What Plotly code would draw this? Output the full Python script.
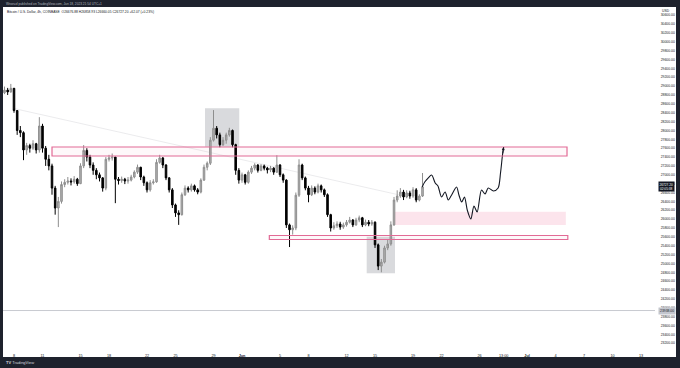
import plotly.graph_objects as go
import pandas as pd

# ---------------- data ----------------
candle_start = "2023-05-07 00:00"
candle_freq = "8h"
first_open = 28850
closes = [28910, 28870, 28950, 28450, 28000, 27950, 27560, 27660, 27600, 27700,
          27560, 28100, 27600, 27350, 27200, 26700, 26250, 26400, 26780, 26830,
          26860, 26840, 26900, 26800, 27200, 27550, 27400, 27220, 27100, 27000,
          26930, 26700, 27350, 27380, 27400, 26900, 26870, 26900, 26860, 26880,
          26950, 27060, 27170, 26950, 26820, 26660, 26820, 26840, 27280, 27380,
          27220, 26930, 26660, 26320, 26140, 26100, 26550, 26700, 26660, 26750,
          26660, 26610, 26880, 27170, 27260, 27780, 28050, 27900, 27680, 27780,
          27900, 28000, 27680, 27100, 26880, 27000, 26830, 27060, 27150, 27220,
          27100, 27200, 27150, 27110, 27150, 27060, 27220, 27000, 26880, 25870,
          25760, 25800, 26540, 27220, 26930, 26700, 26550, 26700, 26610, 26750,
          26660, 26550, 26100, 25800, 25850, 25890, 25820, 25870, 25930, 25980,
          25870, 25980, 26030, 25870, 25930, 25890, 25930, 25420, 24940, 25030,
          25350, 25440, 25870, 26430, 26520, 26610, 26500, 26590, 26520, 26660,
          26430, 26520, 26727]
highs = [28990, 28960, 29050, 28960, 28450, 28100, 27980, 27720, 27700, 27780,
         27720, 28300, 28150, 27650, 27450, 27250, 26750, 26500, 26850, 26900,
         26950, 26920, 26970, 26930, 27260, 27670, 27600, 27450, 27280, 27150,
         27050, 26950, 27400, 27450, 27480, 27400, 26950, 26960, 26930, 26950,
         27000, 27100, 27230, 27180, 26980, 26850, 26880, 26900, 27350, 27450,
         27400, 27240, 26950, 26700, 26350, 26200, 26600, 26760, 26740, 26800,
         26780, 26700, 26920, 27230, 27300, 27850, 28460, 28100, 27950, 27850,
         27950, 28060, 28020, 27700, 27150, 27050, 27020, 27100, 27200, 27260,
         27240, 27240, 27230, 27180, 27200, 27170, 27440, 27240, 27030, 26900,
         25900, 25860, 26600, 27350, 27250, 26960, 26750, 26760, 26740, 26800,
         26780, 26690, 26580, 26120, 25930, 25950, 25940, 25920, 25980, 26050,
         26000, 26030, 26080, 26050, 25990, 25980, 25980, 25950, 25450, 25100,
         25400, 25530, 25950, 26500, 26650, 26700, 26660, 26650, 26640, 26720,
         26700, 26560, 27040]
lows = [28820, 28800, 28850, 28400, 27900, 27850, 27330, 27450, 27500, 27560,
        27480, 27500, 27500, 27200, 27100, 26550, 26100, 25820, 26350, 26720,
        26780, 26760, 26800, 26750, 26790, 27150, 27300, 27150, 27000, 26900,
        26850, 26620, 26650, 27300, 27320, 26360, 26780, 26820, 26790, 26800,
        26850, 26920, 27020, 26880, 26750, 26600, 26620, 26780, 26820, 27250,
        27150, 26880, 26600, 26250, 26050, 25870, 26080, 26520, 26600, 26620,
        26620, 26560, 26580, 26860, 27100, 27220, 27750, 27820, 27620, 27650,
        27700, 27860, 27620, 27000, 26800, 26820, 26780, 26800, 27020, 27100,
        27050, 27080, 27100, 27030, 27060, 27000, 27040, 26950, 26820, 25800,
        25370, 25650, 25750, 26500, 26880, 26650, 26380, 26520, 26560, 26580,
        26600, 26500, 26050, 25720, 25760, 25800, 25760, 25780, 25830, 25900,
        25820, 25850, 25930, 25820, 25840, 25840, 25850, 25350, 24850, 24800,
        25000, 25300, 25400, 25850, 26380, 26480, 26430, 26470, 26460, 26480,
        26380, 26400, 26500]

# projected path (drawing)
proj_times = ["2023-06-19 23:00", "2023-06-20 06:00", "2023-06-20 14:00", "2023-06-20 23:00",
              "2023-06-21 08:00", "2023-06-21 15:00", "2023-06-22 00:00", "2023-06-22 09:00",
              "2023-06-22 17:00", "2023-06-23 00:00", "2023-06-23 14:00", "2023-06-23 20:00",
              "2023-06-24 03:00", "2023-06-24 10:00", "2023-06-24 17:00", "2023-06-25 02:00",
              "2023-06-25 10:00", "2023-06-25 18:00", "2023-06-26 05:00", "2023-06-26 14:00",
              "2023-06-26 22:00", "2023-06-27 11:00", "2023-06-27 23:00", "2023-06-28 05:00",
              "2023-06-28 10:00"]
proj_prices = [26727, 26844, 26927, 26995, 26815, 26747, 26499, 26612, 26431, 26521,
               26724, 26544, 26386, 26499, 26206, 26003, 26296, 26160, 26657, 26567,
               26702, 26634, 26702, 27040, 27446]
proj_end_time = "2023-06-28 13:00"
proj_end_price = 27627

# zones: (start, end, low, high)
pink_boxes = [("2023-05-12 00:00", "2023-07-05 05:00", 27424, 27627),
              ("2023-06-03 21:00", "2023-07-05 07:00", 25540, 25630)]
pink_zone = ("2023-06-16 22:00", "2023-07-05 02:00", 25867, 26167)
gray_boxes = [("2023-05-28 02:30", "2023-05-31 17:00", 27634, 28500),
              ("2023-06-14 03:00", "2023-06-17 02:30", 24777, 25603)]
trend_line = (("2023-05-07 21:30", 28500), ("2023-06-17 14:00", 26544))
hline_price = 23938
last_price = 26727.20

tick_dates = ["2023-05-08", "2023-05-11", "2023-05-15", "2023-05-18", "2023-05-22",
              "2023-05-25", "2023-05-29", "2023-06-01", "2023-06-05", "2023-06-08",
              "2023-06-12", "2023-06-15", "2023-06-19", "2023-06-22", "2023-06-26",
              "2023-06-28 13:00", "2023-07-01", "2023-07-04", "2023-07-07", "2023-07-10",
              "2023-07-13"]
tick_labels = ["8", "11", "15", "18", "22", "25", "29", "<b>Jun</b>", "5", "8",
               "12", "15", "19", "22", "26", "13:00", "<b>Jul</b>", "4", "7", "10", "13"]
price_ticks = list(range(23200, 30601, 200))

# ---------------- layout geometry ----------------
W, H = 680, 368
L, R, T, B = 3, 25, 7, 19
PW, PH = W - L - R, H - T - B
x_range = ["2023-05-06 20:12", "2023-07-14 11:17"]
y_range = [23070, 30785]


def px_x(px):
    return (px - L) / PW


def px_y(py):
    return (T + PH - py) / PH


FONT = "Liberation Sans"
DARK = "#1e222d"

times = pd.date_range(candle_start, periods=len(closes), freq=candle_freq)
opens = [first_open] + closes[:-1]

fig = go.Figure()
fig.add_trace(go.Candlestick(
    x=times, open=opens, high=highs, low=lows, close=closes,
    increasing=dict(line=dict(color="#8e8e8e", width=1), fillcolor="#b4b4b4"),
    decreasing=dict(line=dict(color="#000000", width=1), fillcolor="#000000"),
    whiskerwidth=0, showlegend=False, hoverinfo="skip"))

fig.add_trace(go.Scatter(
    x=proj_times + [proj_end_time],
    y=proj_prices + [proj_end_price],
    mode="lines", line=dict(color="#131722", width=1.1, shape="spline", smoothing=0.8),
    showlegend=False, hoverinfo="skip"))

shapes = []
shapes.append(dict(type="line", xref="x", yref="y",
                   x0=trend_line[0][0], y0=trend_line[0][1],
                   x1=trend_line[1][0], y1=trend_line[1][1],
                   line=dict(color="rgba(120,123,134,0.15)", width=1), layer="below"))
for (s, e, lo, hi) in gray_boxes:
    shapes.append(dict(type="rect", xref="x", yref="y", x0=s, x1=e, y0=lo, y1=hi,
                       fillcolor="rgba(120,123,134,0.28)", line=dict(width=0), layer="below"))
shapes.append(dict(type="rect", xref="x", yref="y", x0=pink_zone[0], x1=pink_zone[1],
                   y0=pink_zone[2], y1=pink_zone[3],
                   fillcolor="rgba(233,30,99,0.12)", line=dict(width=0), layer="below"))
for (s, e, lo, hi) in pink_boxes:
    shapes.append(dict(type="rect", xref="x", yref="y", x0=s, x1=e, y0=lo, y1=hi,
                       fillcolor="rgba(233,30,99,0.03)",
                       line=dict(color="#e26b96", width=1.2), layer="above"))
shapes.append(dict(type="line", xref="paper", yref="y", x0=0, x1=1,
                   y0=hline_price, y1=hline_price,
                   line=dict(color="#c9cbd1", width=1), layer="below"))
shapes += [
    dict(type="rect", xref="paper", yref="paper", x0=px_x(0), x1=px_x(W), y0=px_y(0), y1=px_y(7),
         fillcolor=DARK, line=dict(width=0), layer="above"),
    dict(type="rect", xref="paper", yref="paper", x0=px_x(0), x1=px_x(W), y0=px_y(357), y1=px_y(H),
         fillcolor=DARK, line=dict(width=0), layer="above"),
    dict(type="rect", xref="paper", yref="paper", x0=px_x(0), x1=px_x(3), y0=px_y(0), y1=px_y(H),
         fillcolor=DARK, line=dict(width=0), layer="above"),
    dict(type="rect", xref="paper", yref="paper", x0=px_x(676), x1=px_x(W), y0=px_y(0), y1=px_y(H),
         fillcolor=DARK, line=dict(width=0), layer="above"),
]

annotations = [
    dict(xref="paper", yref="paper", x=px_x(4), y=px_y(3.6), xanchor="left", yanchor="middle",
         text="Wnoruzl published on TradingView.com, Jun 18, 2023 21:54 UTC+1",
         showarrow=False, font=dict(family=FONT, size=3.2, color="#b2b5be")),
    dict(xref="paper", yref="paper", x=px_x(5), y=px_y(12), xanchor="left", yanchor="middle",
         text="Bitcoin / U.S. Dollar, 4h, COINBASE  O26676.88 H26858.93 L26660.05 C26727.20 +62.07 (+0.23%)",
         showarrow=False, font=dict(family=FONT, size=3.3, color="#131722")),
    dict(xref="paper", yref="paper", x=px_x(660), y=px_y(10.7), xanchor="left", yanchor="middle",
         text="USD", showarrow=False, font=dict(family=FONT, size=3.4, color="#131722")),
    dict(xref="paper", yref="paper", x=px_x(4), y=px_y(362.5), xanchor="left", yanchor="middle",
         text="<b>TV</b> TradingView", showarrow=False,
         font=dict(family=FONT, size=4, color="#d1d4dc")),
    dict(xref="paper", yref="y", x=px_x(658), y=hline_price, xanchor="left", yanchor="middle",
         text="%.2f" % hline_price, showarrow=False, bgcolor="#c3c6ce", borderpad=1,
         font=dict(family=FONT, size=3.4, color="#131722")),
    dict(xref="paper", yref="y", x=px_x(658), y=last_price, xanchor="left", yanchor="middle",
         text="%.2f<br>02:05:38" % last_price, showarrow=False, bgcolor="#131722", borderpad=0.5,
         font=dict(family=FONT, size=3.2, color="#ffffff")),
    dict(xref="x", yref="y", x=proj_end_time, y=proj_end_price,
         ax=proj_times[-1], ay=proj_prices[-1], axref="x", ayref="y",
         text="", showarrow=True, arrowhead=2, arrowsize=0.6, arrowwidth=1, arrowcolor="#131722"),
]

fig.update_layout(
    width=W, height=H, margin=dict(l=L, r=R, t=T, b=B, pad=0),
    paper_bgcolor="#ffffff", plot_bgcolor="#ffffff",
    shapes=shapes, annotations=annotations, showlegend=False,
    font=dict(family=FONT, color="#131722"),
    xaxis=dict(type="date", range=x_range, rangeslider=dict(visible=False),
               tickvals=tick_dates, ticktext=tick_labels, showgrid=False, zeroline=False,
               showline=False, ticks="outside", ticklen=2, tickcolor="rgba(0,0,0,0)",
               tickfont=dict(family=FONT, size=3.8, color="#131722")),
    yaxis=dict(side="right", range=y_range, tickvals=price_ticks,
               ticktext=["%.2f" % v for v in price_ticks], showgrid=False, zeroline=False,
               showline=False, ticks="outside", ticklen=4, tickcolor="rgba(0,0,0,0)",
               tickfont=dict(family=FONT, size=3.4, color="#131722")),
)

fig.write_html("out.html", config={"displayModeBar": False},
               post_script="document.body.style.margin='0';document.body.style.overflow='hidden';")
